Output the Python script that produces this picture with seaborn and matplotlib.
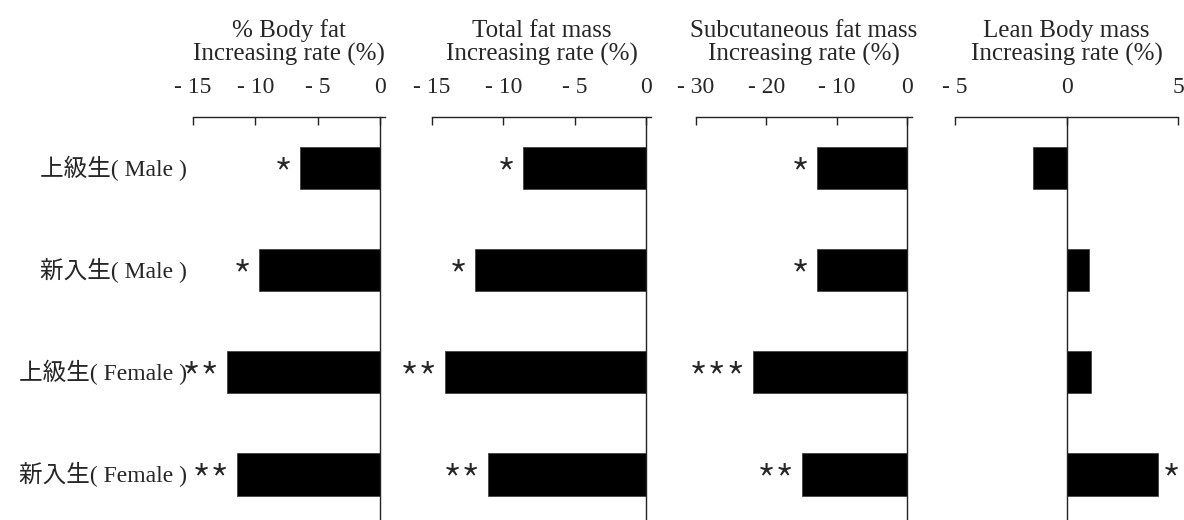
import numpy as np
import pandas as pd
import matplotlib
matplotlib.use("Agg")
import matplotlib.pyplot as plt
import seaborn as sns

# groups (rows, top to bottom)
groups = ["上級生( Male )", "新入生( Male )", "上級生( Female )", "新入生( Female )"]

# increasing rate (%) per measure
body_fat = [-6.4, -9.7, -12.3, -11.5]
total_fat = [-8.6, -12.0, -14.1, -11.1]
subcut_fat = [-12.8, -12.8, -21.9, -14.9]
lean_mass = [-1.5, 1.0, 1.1, 4.1]

# significance marks
body_fat_sig = ["*", "*", "**", "**"]
total_fat_sig = ["*", "*", "**", "**"]
subcut_fat_sig = ["*", "*", "***", "**"]
lean_mass_sig = ["", "", "", "*"]

titles = [
    "% Body fat\nIncreasing rate (%)",
    "Total fat mass\nIncreasing rate (%)",
    "Subcutaneous fat mass\nIncreasing rate (%)",
    "Lean Body mass\nIncreasing rate (%)",
]
tick_values = [[-15, -10, -5, 0], [-15, -10, -5, 0], [-30, -20, -10, 0], [-5, 0, 5]]
tick_labels = [["- 15", "- 10", "- 5", "0"], ["- 15", "- 10", "- 5", "0"],
               ["- 30", "- 20", "- 10", "0"], ["- 5", "0", "5"]]
x_limits = [(-15, 0.4), (-15, 0.35), (-30, 0.7), (-5, 5)]

sns.set_style("white")
plt.rcParams["font.family"] = ["Liberation Serif", "Noto Sans CJK JP"]

W, H = 1184, 520
fig = plt.figure(figsize=(W / 100, H / 100), dpi=100)

# axes pixel extents (left, right)
extents = [(193, 385), (432, 651), (696, 912), (955, 1178)]
top_px = 117

series = [body_fat, total_fat, subcut_fat, lean_mass]
sigs = [body_fat_sig, total_fat_sig, subcut_fat_sig, lean_mass_sig]
star_font = ["Noto Sans CJK JP", "DejaVu Sans"]

for k in range(4):
    l, r = extents[k]
    ax = fig.add_axes([l / W, 0, (r - l) / W, (H - top_px) / H])
    df = pd.DataFrame({"group": groups, "rate": series[k]})
    sns.barplot(data=df, x="rate", y="group", orient="h", color="black",
                width=0.42, edgecolor="#444444", linewidth=0.6, ax=ax,
                saturation=1)
    ax.set_xlim(*x_limits[k])
    ax.set_ylim(3.45, -0.5)
    ax.set_xlabel("")
    ax.set_ylabel("")

    # spines: top axis line, zero line as left spine
    for s in ["bottom", "right"]:
        ax.spines[s].set_visible(False)
    ax.spines["left"].set_position(("data", 0))
    for s in ["top", "left"]:
        ax.spines[s].set_linewidth(1.0)
        ax.spines[s].set_color("#222222")

    ax.xaxis.tick_top()
    ax.set_xticks(tick_values[k])
    ax.set_xticklabels(tick_labels[k])
    ax.tick_params(axis="x", direction="in", length=6, width=1, pad=14,
                   labelsize=17, color="#222222")
    ax.set_yticks([0.5, 1.5, 2.5])
    ax.set_yticklabels([])
    ax.tick_params(axis="y", direction="in", length=4, width=1, color="#222222")

    # significance marks
    for i, (v, s) in enumerate(zip(series[k], sigs[k])):
        if not s:
            continue
        if v < 0:
            ax.annotate(s, (v, i), xytext=(-5, -8), textcoords="offset points",
                        ha="right", va="center", fontsize=31, family=star_font,
                        fontweight="light")
        else:
            ax.annotate(s, (v, i), xytext=(3, -8), textcoords="offset points",
                        ha="left", va="center", fontsize=31, family=star_font,
                        fontweight="light")

    # row labels on the first panel
    if k == 0:
        for i, g in enumerate(groups):
            ax.text(-0.03, i, g, transform=ax.get_yaxis_transform(),
                    ha="right", va="center", fontsize=17)

    fig.text((l + r) / 2 / W, 1 - 66 / H, titles[k], ha="center", va="bottom",
             fontsize=18, linespacing=1.05)

fig.savefig("out.png", dpi=100)
